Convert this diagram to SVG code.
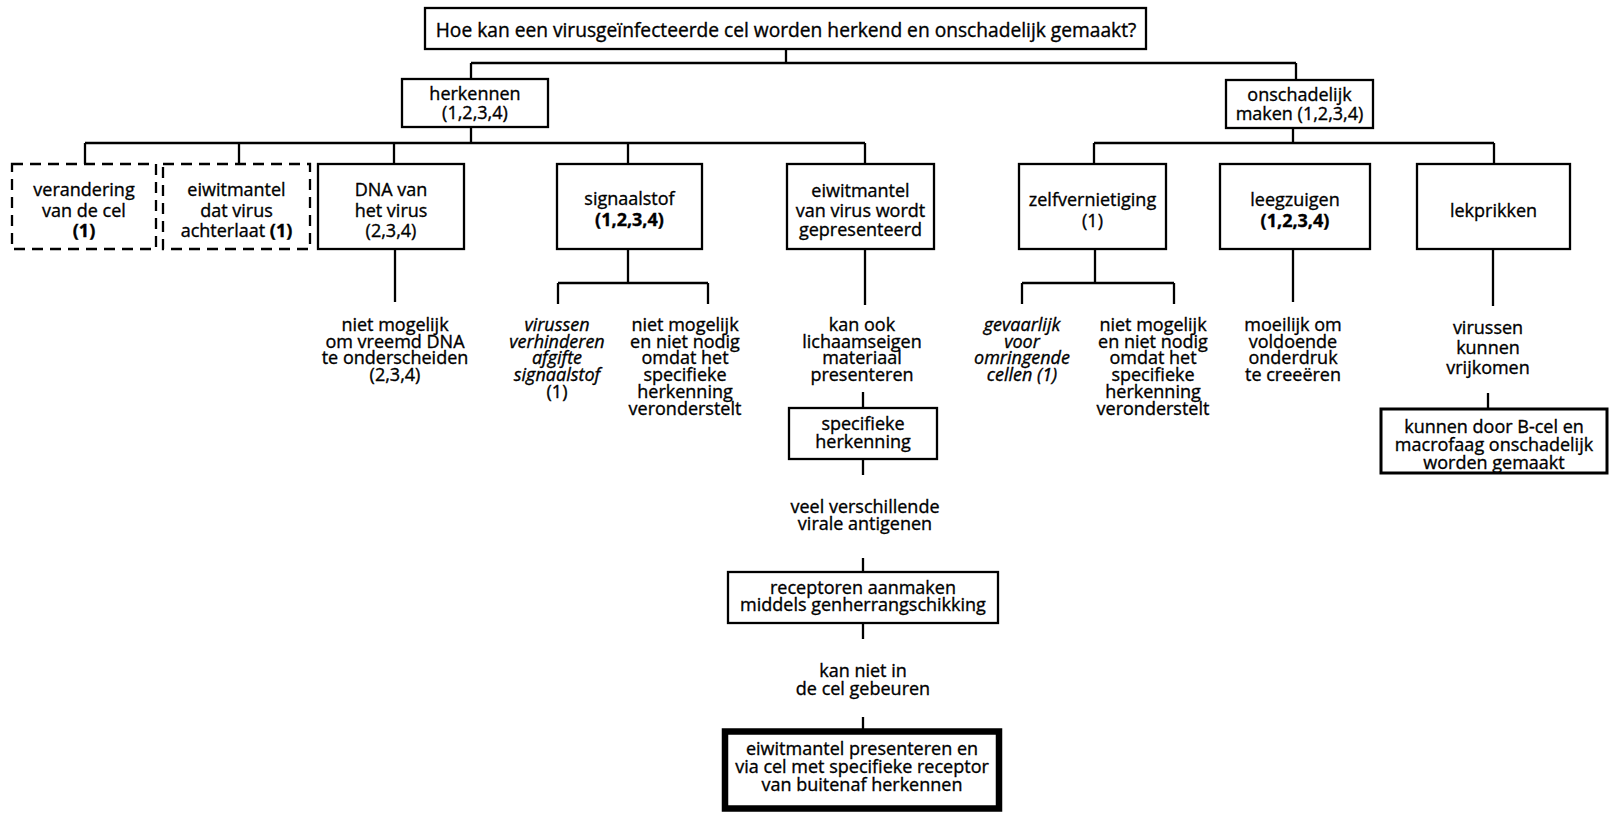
<svg xmlns="http://www.w3.org/2000/svg" width="1620" height="813" viewBox="0 0 1620 813">
  <style>
    .box { fill: #fff; stroke: #000; stroke-width: 2.3; }
    .dash { stroke-dasharray: 11 7; }
    .heavy { stroke-width: 3; }
    .thick { stroke-width: 6.5; }
    .wire { fill: none; stroke: #000; stroke-width: 2.3; }
    text { font-family: "Open Sans", "Liberation Sans", sans-serif; font-size: 18px; fill: #000; stroke: #000; stroke-width: 0.35; text-anchor: middle; }
    .title { font-size: 19.2px; }
    .it { font-style: italic; }
    .b { font-weight: 700; }
  </style>
  <rect width="1620" height="813" fill="#fff"/>

  <!-- connectors -->
  <g id="connectors" class="wire">
    <path d="M786 49V63M471 63H1296M471 63V79M1296 63V80"/>
    <path d="M471 127V143M85 143H865M85 143V164M239 143V164M394 143V164M628 143V164M865 143V164"/>
    <path d="M1293 128V143M1094 143H1494M1094 143V164M1494 143V164"/>
    <path d="M395 249V302"/>
    <path d="M628 249V283M558 283H708M558 283V304M708 283V304"/>
    <path d="M865 249V305"/>
    <path d="M1095 249V283M1022 283H1174M1022 283V304M1174 283V304"/>
    <path d="M1293 249V302"/>
    <path d="M1493 249V306"/>
    <path d="M1488 393V409"/>
    <path d="M863 392V408M863 459V475M863 558V572M863 623V639M863 717V729"/>
  </g>

  <!-- root question -->
  <g id="root">
    <rect class="box" x="425" y="8" width="721" height="41"/>
    <text class="title" x="786" y="37">Hoe kan een virusgeïnfecteerde cel worden herkend en onschadelijk gemaakt?</text>
  </g>

  <!-- second level -->
  <g id="herkennen">
    <rect class="box" x="402" y="79" width="146" height="48"/>
    <text x="475" y="100">herkennen</text>
    <text x="475" y="119">(1,2,3,4)</text>
  </g>
  <g id="onschadelijk">
    <rect class="box" x="1226" y="80" width="147" height="48"/>
    <text x="1299.5" y="101">onschadelijk</text>
    <text x="1299.5" y="120">maken (1,2,3,4)</text>
  </g>

  <!-- third level: recognition branches -->
  <g id="verandering">
    <rect class="box dash" x="12" y="164" width="144" height="85"/>
    <text x="84" y="196">verandering</text>
    <text x="84" y="216.5">van de cel</text>
    <text x="84" y="237" class="b">(1)</text>
  </g>
  <g id="eiwitmantel-achter">
    <rect class="box dash" x="163" y="164" width="147" height="85"/>
    <text x="236.5" y="196">eiwitmantel</text>
    <text x="236.5" y="216.5">dat virus</text>
    <text x="236.5" y="237">achterlaat <tspan class="b">(1)</tspan></text>
  </g>
  <g id="dna">
    <rect class="box" x="318" y="164" width="146" height="85"/>
    <text x="391" y="196">DNA van</text>
    <text x="391" y="216.5">het virus</text>
    <text x="391" y="237">(2,3,4)</text>
  </g>
  <g id="signaalstof">
    <rect class="box" x="557" y="164" width="145" height="85"/>
    <text x="629.5" y="204.5">signaalstof</text>
    <text x="629.5" y="225.5" class="b">(1,2,3,4)</text>
  </g>
  <g id="eiwitmantel-gepresenteerd">
    <rect class="box" x="787" y="164" width="147" height="85"/>
    <text x="860.5" y="197">eiwitmantel</text>
    <text x="860.5" y="216.5">van virus wordt</text>
    <text x="860.5" y="236">gepresenteerd</text>
  </g>

  <!-- third level: elimination branches -->
  <g id="zelfvernietiging">
    <rect class="box" x="1019" y="164" width="147" height="85"/>
    <text x="1092.5" y="206">zelfvernietiging</text>
    <text x="1092.5" y="226.5">(1)</text>
  </g>
  <g id="leegzuigen">
    <rect class="box" x="1220" y="164" width="150" height="85"/>
    <text x="1295" y="206">leegzuigen</text>
    <text x="1295" y="226.5" class="b">(1,2,3,4)</text>
  </g>
  <g id="lekprikken">
    <rect class="box" x="1417" y="164" width="153" height="85"/>
    <text x="1493.5" y="217">lekprikken</text>
  </g>

  <!-- fourth level notes -->
  <g id="dna-note">
    <text x="395" y="331">niet mogelijk</text>
    <text x="395" y="347.7">om vreemd DNA</text>
    <text x="395" y="364.4">te onderscheiden</text>
    <text x="395" y="381.1">(2,3,4)</text>
  </g>
  <g id="signaal-note-a">
    <text x="557" y="331" class="it">virussen</text>
    <text x="557" y="347.7" class="it">verhinderen</text>
    <text x="557" y="364.4" class="it">afgifte</text>
    <text x="557" y="381.1" class="it">signaalstof</text>
    <text x="557" y="397.8">(1)</text>
  </g>
  <g id="signaal-note-b">
    <text x="685" y="331">niet mogelijk</text>
    <text x="685" y="347.7">en niet nodig</text>
    <text x="685" y="364.4">omdat het</text>
    <text x="685" y="381.1">specifieke</text>
    <text x="685" y="397.8">herkenning</text>
    <text x="685" y="414.5">veronderstelt</text>
  </g>
  <g id="presentatie-note">
    <text x="862" y="331">kan ook</text>
    <text x="862" y="347.7">lichaamseigen</text>
    <text x="862" y="364.4">materiaal</text>
    <text x="862" y="381.1">presenteren</text>
  </g>
  <g id="zelf-note-a">
    <text x="1022" y="331" class="it">gevaarlijk</text>
    <text x="1022" y="347.7" class="it">voor</text>
    <text x="1022" y="364.4" class="it">omringende</text>
    <text x="1022" y="381.1" class="it">cellen (1)</text>
  </g>
  <g id="zelf-note-b">
    <text x="1153" y="331">niet mogelijk</text>
    <text x="1153" y="347.7">en niet nodig</text>
    <text x="1153" y="364.4">omdat het</text>
    <text x="1153" y="381.1">specifieke</text>
    <text x="1153" y="397.8">herkenning</text>
    <text x="1153" y="414.5">veronderstelt</text>
  </g>
  <g id="leeg-note">
    <text x="1293" y="331">moeilijk om</text>
    <text x="1293" y="347.7">voldoende</text>
    <text x="1293" y="364.4">onderdruk</text>
    <text x="1293" y="381.1">te creeëren</text>
  </g>
  <g id="lek-note">
    <text x="1488" y="334">virussen</text>
    <text x="1488" y="354">kunnen</text>
    <text x="1488" y="373.5">vrijkomen</text>
  </g>
  <g id="b-cel">
    <rect class="box heavy" x="1381" y="409" width="226" height="64"/>
    <text x="1494" y="432.5">kunnen door B-cel en</text>
    <text x="1494" y="450.5">macrofaag onschadelijk</text>
    <text x="1494" y="468.5">worden gemaakt</text>
  </g>

  <!-- presentation chain -->
  <g id="specifieke-herkenning">
    <rect class="box" x="789" y="408" width="148" height="51"/>
    <text x="863" y="430">specifieke</text>
    <text x="863" y="447.5">herkenning</text>
  </g>
  <g id="antigenen-note">
    <text x="865" y="513">veel verschillende</text>
    <text x="865" y="530">virale antigenen</text>
  </g>
  <g id="receptoren">
    <rect class="box" x="728" y="572" width="270" height="51"/>
    <text x="863" y="593.5">receptoren aanmaken</text>
    <text x="863" y="611">middels genherrangschikking</text>
  </g>
  <g id="cel-note">
    <text x="863" y="677">kan niet in</text>
    <text x="863" y="694.5">de cel gebeuren</text>
  </g>
  <g id="conclusie">
    <rect class="box thick" x="725" y="731.5" width="274" height="77"/>
    <text x="862" y="755">eiwitmantel presenteren en</text>
    <text x="862" y="773">via cel met specifieke receptor</text>
    <text x="862" y="791">van buitenaf herkennen</text>
  </g>
</svg>
